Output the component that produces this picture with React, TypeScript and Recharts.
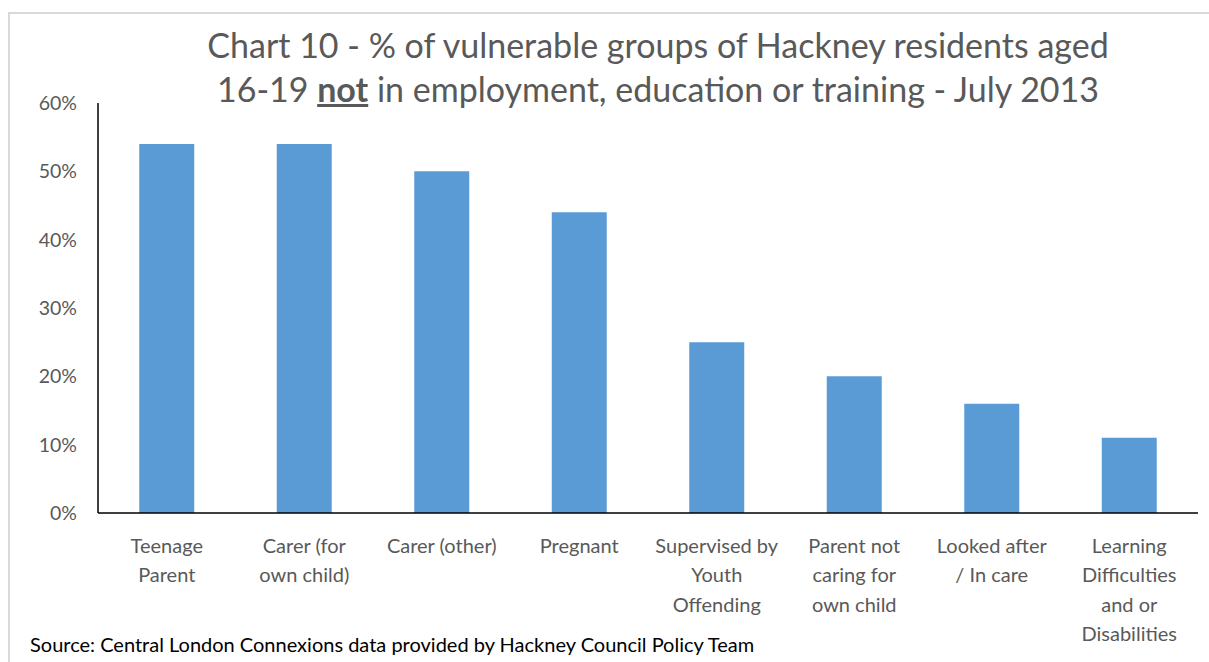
import { BarChart, Bar, XAxis, YAxis } from "recharts";

const categories = [
  "Teenage\nParent",
  "Carer (for\nown child)",
  "Carer (other)",
  "Pregnant",
  "Supervised by\nYouth\nOffending",
  "Parent not\ncaring for\nown child",
  "Looked after\n/ In care",
  "Learning\nDifficulties\nand or\nDisabilities",
];
const notInEet = [0.54, 0.54, 0.5, 0.44, 0.25, 0.2, 0.16, 0.11];
const yTicks = [0, 0.1, 0.2, 0.3, 0.4, 0.5, 0.6];

const data = categories.map((c, i) => ({ group: c, value: notInEet[i] }));

const FONT = "Lato, 'Open Sans', sans-serif";

function CategoryTick(props: any) {
  const { x, y, payload } = props;
  const lines = String(payload.value).split("\n");
  return (
    <text x={x} y={y} textAnchor="middle" fill="#595959" fontSize={20} fontFamily={FONT}>
      {lines.map((l, i) => (
        <tspan key={i} x={x} dy={i === 0 ? 38 : 29.3}>
          {l}
        </tspan>
      ))}
    </text>
  );
}

export default function App() {
  return (
    <div
      style={{
        position: "absolute",
        left: 0,
        top: 0,
        width: 1209,
        height: 662,
        background: "#fff",
        fontFamily: FONT,
      }}
    >
      <div
        style={{
          position: "absolute",
          left: 8,
          top: 12,
          width: 1201,
          height: 650,
          borderTop: "2px solid #d9d9d9",
          borderLeft: "2px solid #d9d9d9",
        }}
      />
      <div
        style={{
          position: "absolute",
          left: 0,
          top: 23,
          width: 1316,
          textAlign: "center",
          color: "#595959",
          fontSize: 34,
          lineHeight: "44px",
        }}
      >
        <div>Chart 10 - % of vulnerable groups of Hackney residents aged</div>
        <div>
          16-19 <span style={{ fontWeight: "bold", textDecoration: "underline" }}>not</span> in
          employment, education or training - July 2013
        </div>
      </div>
      <BarChart
        width={1209}
        height={662}
        data={data}
        margin={{ top: 103, right: 11, bottom: 0, left: 0 }}
        barCategoryGap="30%"
      >
        <YAxis
          width={98}
          domain={[0, 0.6]}
          ticks={yTicks}
          interval={0}
          tickFormatter={(v: number) => `${Math.round(v * 100)}%`}
          axisLine={{ stroke: "#000", strokeWidth: 1.5 }}
          tickLine={false}
          tickSize={0}
          tickMargin={21}
          tick={{ fill: "#595959", fontSize: 19.5, fontFamily: FONT }}
        />
        <XAxis
          dataKey="group"
          height={149}
          interval={0}
          axisLine={{ stroke: "#000", strokeWidth: 1.5 }}
          tickLine={false}
          tickSize={0}
          tick={<CategoryTick />}
        />
        <Bar dataKey="value" fill="#5b9bd5" isAnimationActive={false} />
      </BarChart>
      <div
        style={{
          position: "absolute",
          left: 30,
          top: 632,
          fontSize: 20,
          color: "#000",
          whiteSpace: "nowrap",
        }}
      >
        Source: Central London Connexions data provided by Hackney Council Policy Team
      </div>
    </div>
  );
}
